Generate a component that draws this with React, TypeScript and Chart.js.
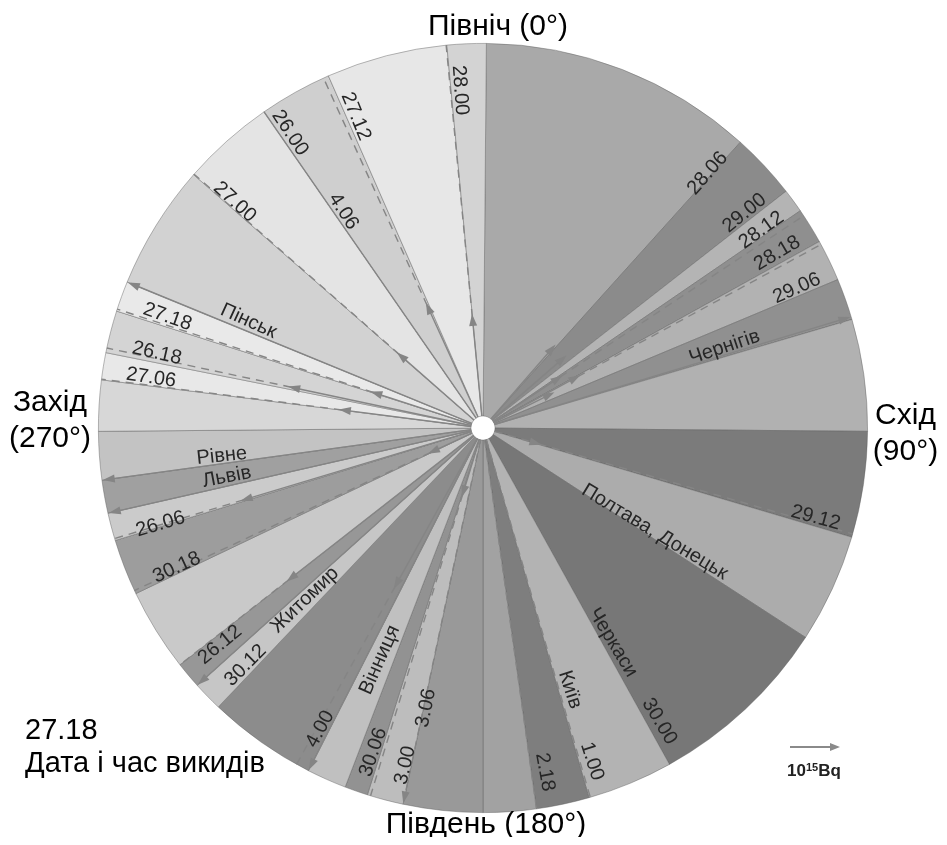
import React, { useEffect, useRef } from "react";
import { Chart, registerables } from "chart.js";

Chart.register(...registerables);

// Sector boundaries (compass degrees, clockwise from north) and their grey shades
const sectorBounds = [
  0.5, 42, 52, 55.6, 61, 67.3, 73.6, 90.5, 106.5, 123, 151, 164, 172, 180, 192, 197.5, 201, 207,
  223.5, 228, 232, 244.5, 253, 257.2, 262.2, 269.5, 277.2, 281.3, 287.7, 292.3, 311.2, 325.3, 336.3, 354.6,
];
const sectorShades = [
  "#a9a9a9", "#8b8b8b", "#b4b4b4", "#8f8f8f", "#b2b2b2", "#909090", "#b1b1b1", "#7b7b7b", "#acacac",
  "#777777", "#b3b3b3", "#7e7e7e", "#a2a2a2", "#999999", "#bdbdbd", "#929292", "#c0c0c0", "#8c8c8c",
  "#c6c6c6", "#979797", "#c9c9c9", "#9d9d9d", "#cbcbcb", "#a0a0a0", "#c3c3c3", "#d7d7d7", "#e8e8e8",
  "#d4d4d4", "#e9e9e9", "#d2d2d2", "#e4e4e4", "#cfcfcf", "#e7e7e7", "#d3d3d3",
];
const sectorSizes = sectorBounds.map((b, i) =>
  (i < sectorBounds.length - 1 ? sectorBounds[i + 1] : sectorBounds[0] + 360) - b
);

// Emission arrows: direction (deg), arrow length (fraction of radius), line styles
const rayAngles = [41, 49, 56.5, 61.5, 63.4, 73.2, 106, 163.8, 172, 192, 197, 207, 209, 228, 232, 245, 253.3, 257.2, 262.2, 277.3, 282, 288, 292.3, 311.3, 325.3, 335.5, 354.5];
const rayLengths = [0.28, 0.28, 0.24, 0.28, 0.2, 0.99, 0.15, null, null, 0.99, 0.18, 0.99, 0.47, 0.99, 0.64, 0.15, 0.65, 0.99, 0.99, 0.37, 0.51, 0.3, 0.99, 0.29, null, 0.35, 0.29];
const rayInner = ["S", "S", "S", "S", "S", "S", "D", "D", "D", "D", "S", "S", "S", "S", "S", "S", "S", "S", "S", "S", "S", "S", "S", "S", "S", "S", "S"];
const rayOuter = ["N", "N", "D", "D", "N", "N", "D", "N", "N", "N", "D", "N", "D", "N", "D", "D", "D", "N", "N", "D", "D", "D", "N", "D", "N", "D", "D"];

// Labels: text, direction (deg), distance from centre (fraction of radius)
const labelTexts = [
  "28.06", "29.00", "28.12", "28.18", "29.06", "Чернігів", "29.12", "Полтава, Донецьк", "Черкаси", "30.00",
  "Київ", "1.00", "2.18", "3.06", "3.00", "30.06", "Вінниця", "4.00", "30.12", "Житомир", "26.12", "30.18",
  "26.06", "Львів", "Рівне", "27.06", "26.18", "27.18", "Пінськ", "27.00", "4.06", "26.00", "27.12", "28.00",
];
const labelAngles = [
  41.4, 50.6, 54.6, 59.3, 66, 71.5, 105.1, 121.2, 148.8, 149, 161.6, 161.9, 169.8, 191.5, 193, 198.7, 204,
  208.4, 225, 226, 230.5, 245.5, 253.4, 259.2, 263.9, 278.6, 282.9, 289.4, 294.5, 312.3, 327.2, 326.8, 337.8, 356.1,
];
const labelDistances = [
  0.883, 0.88, 0.888, 0.89, 0.893, 0.662, 0.896, 0.522, 0.652, 0.89, 0.717, 0.912, 0.909, 0.743, 0.9, 0.89, 0.66,
  0.89, 0.873, 0.644, 0.886, 0.875, 0.875, 0.678, 0.683, 0.873, 0.87, 0.87, 0.67, 0.873, 0.67, 0.917, 0.875, 0.88,
];

const FONT = "'Liberation Sans', Arial, Helvetica, sans-serif";

const overlayPlugin = {
  id: "roseOverlay",
  afterDatasetsDraw(chart: any) {
    const arc = chart.getDatasetMeta(0).data[0];
    if (!arc) return;
    const cx = arc.x;
    const cy = arc.y;
    const R = arc.outerRadius;
    const r0 = arc.innerRadius;
    const ctx = chart.ctx as CanvasRenderingContext2D;
    const pt = (deg: number, r: number) => {
      const a = (deg * Math.PI) / 180;
      return [cx + r * Math.sin(a), cy - r * Math.cos(a)];
    };
    ctx.save();
    ctx.strokeStyle = "#858585";
    ctx.fillStyle = "#858585";
    ctx.lineWidth = 1.4;
    rayAngles.forEach((deg, i) => {
      const head = rayLengths[i];
      const hr = head == null ? R : head * R;
      const [x0, y0] = pt(deg, r0);
      const [x1, y1] = pt(deg, hr);
      ctx.setLineDash(rayInner[i] === "D" ? [8, 6] : []);
      ctx.beginPath();
      ctx.moveTo(x0, y0);
      ctx.lineTo(x1, y1);
      ctx.stroke();
      if (head != null) {
        const a = (deg * Math.PI) / 180;
        const ux = Math.sin(a), uy = -Math.cos(a);
        const px = -uy, py = ux;
        ctx.setLineDash([]);
        ctx.beginPath();
        ctx.moveTo(x1 + ux * 3, y1 + uy * 3);
        ctx.lineTo(x1 - ux * 9 + px * 4, y1 - uy * 9 + py * 4);
        ctx.lineTo(x1 - ux * 9 - px * 4, y1 - uy * 9 - py * 4);
        ctx.closePath();
        ctx.fill();
        if (rayOuter[i] !== "N") {
          const [x2, y2] = pt(deg, R);
          ctx.setLineDash(rayOuter[i] === "D" ? [8, 6] : []);
          ctx.beginPath();
          ctx.moveTo(x1, y1);
          ctx.lineTo(x2, y2);
          ctx.stroke();
        }
      }
    });
    ctx.setLineDash([]);
    ctx.fillStyle = "#262626";
    ctx.font = `20px ${FONT}`;
    ctx.textAlign = "center";
    ctx.textBaseline = "middle";
    labelTexts.forEach((t, i) => {
      const deg = labelAngles[i];
      const [x, y] = pt(deg, labelDistances[i] * R);
      let rot = deg - 90;
      if (deg > 180) rot += 180;
      ctx.save();
      ctx.translate(x, y);
      ctx.rotate((rot * Math.PI) / 180);
      ctx.fillText(t, 0, 0);
      ctx.restore();
    });
    ctx.restore();
  },
};

export default function App() {
  const ref = useRef<HTMLCanvasElement>(null);
  useEffect(() => {
    if (!ref.current) return;
    const chart = new Chart(ref.current, {
      type: "doughnut",
      data: {
        labels: sectorBounds.map((b) => String(b)),
        datasets: [
          {
            data: sectorSizes,
            backgroundColor: sectorShades,
            borderColor: "rgba(95,95,95,0.55)",
            borderWidth: 0.8,
          },
        ],
      },
      options: {
        responsive: false,
        animation: false,
        rotation: sectorBounds[0],
        cutout: 12,
        layout: { padding: { left: 90, top: 35, right: 71, bottom: 24 } },
        plugins: { legend: { display: false }, tooltip: { enabled: false } },
      },
      plugins: [overlayPlugin],
    });
    return () => chart.destroy();
  }, []);

  const big: React.CSSProperties = {
    position: "absolute",
    fontFamily: FONT,
    fontSize: 30,
    color: "#000",
    whiteSpace: "nowrap",
    textAlign: "center",
  };
  return (
    <div style={{ position: "relative", width: 931, height: 829, overflow: "hidden" }}>
      <canvas ref={ref} width={931} height={829} style={{ position: "absolute", left: 0, top: 0 }} />
      <div style={{ ...big, left: 390, width: 200, top: 2, lineHeight: "30px" }}>Північ (0°)</div>
      <div style={{ ...big, left: 358, width: 240, top: 800, lineHeight: "30px" }}>Південь (180°)</div>
      <div style={{ ...big, left: -8, width: 100, top: 375, lineHeight: "36px" }}>
        Захід<br />(270°)
      </div>
      <div style={{ ...big, left: 864, width: 67, top: 388, lineHeight: "36px" }}>
        Схід<br />(90°)
      </div>
      <div style={{ ...big, fontSize: 29, left: 17, top: 705, lineHeight: "33px", textAlign: "left" }}>
        27.18<br />Дата і час викидів
      </div>
      <svg width={54} height={12} style={{ position: "absolute", left: 780, top: 733 }}>
        <line x1={2} y1={6} x2={44} y2={6} stroke="#8a8a8a" strokeWidth={2} />
        <polygon points="52,6 42,2 42,10" fill="#8a8a8a" />
      </svg>
      <div style={{ position: "absolute", left: 779, top: 754, fontFamily: FONT, fontSize: 17, fontWeight: "bold", color: "#222", lineHeight: "18px", whiteSpace: "nowrap" }}>
        10<span style={{ fontSize: 11, verticalAlign: "top", lineHeight: "11px" }}>15</span>Bq
      </div>
    </div>
  );
}
